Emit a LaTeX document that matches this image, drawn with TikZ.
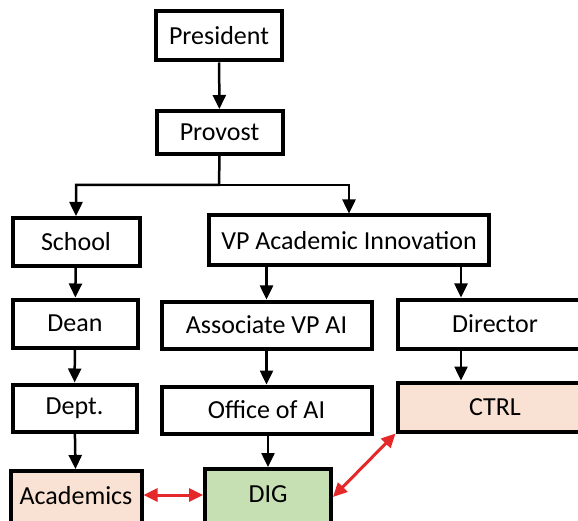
\documentclass[tikz,border=0pt]{standalone}
\usepackage{fontspec}
\setmainfont{Carlito}
\usepackage{xcolor}
\usepackage{tikz}
\usetikzlibrary{arrows.meta}

\definecolor{peach}{HTML}{F9E1D3}
\definecolor{leaf}{HTML}{C6E0B4}
\definecolor{linkred}{HTML}{E5282A}

\tikzset{
  box/.style={draw, line width=4pt, fill=white, inner sep=0pt,
    font=\fontsize{26}{31}\selectfont},
  arr/.style={line width=2.5pt, -{Triangle[length=14pt,width=13pt]}},
  link/.style={line width=3pt, linkred,
    {Triangle[length=14pt,width=13pt]}-{Triangle[length=14pt,width=13pt]}}
}

\begin{document}
\begin{tikzpicture}[x=1pt, y=-1pt]
				\useasboundingbox (0,0) rectangle (578,521);

				\node[box, minimum width=126pt, minimum height=49pt] (president) at (219,36) {President};
				\node[box, minimum width=126pt, minimum height=43pt] (provost) at (219.5,132.5) {Provost};

				\node[box, minimum width=127pt, minimum height=48pt] (school) at (76,242) {School};
				\node[box, minimum width=280pt, minimum height=50pt] (vpai) at (349,240.5) {VP Academic Innovation};

				\node[box, minimum width=125pt, minimum height=48pt] (dean) at (75,323.5) {Dean};
				\node[box, minimum width=210pt, minimum height=47pt] (avpai) at (266.5,325) {Associate VP AI};
				\node[box, minimum width=195pt, minimum height=49pt] (director) at (495,324) {Director};

				\node[box, minimum width=124pt, minimum height=47pt] (dept) at (74.5,408) {Dept.};
				\node[box, minimum width=210pt, minimum height=47pt] (office) at (266.5,410) {Office of AI};
				\node[box, fill=peach, minimum width=195pt, minimum height=49pt] (ctrl) at (495,407) {CTRL};

				% bottom row runs off the page
				\node[box, fill=peach, text depth=9pt, minimum width=131pt, minimum height=58pt] (academics) at (76,500) {Academics};
				\node[box, fill=leaf, text depth=9pt, minimum width=126pt, minimum height=60pt] (dig) at (268,499) {DIG};

				% reporting lines
				\coordinate (split) at (219,185);
				\draw[arr] (president) -- (provost);
				\draw[arr] (provost.south) -- (split) -| (school.north);
				\draw[arr] (split) -| (vpai.north);
				\draw[arr] (avpai.north |- vpai.south) -- (avpai.north);
				\draw[arr] ([xshift=-30pt]vpai.south east) -- ([xshift=-30pt]vpai.south east |- director.north);
				\draw[arr] (school) -- (dean);
				\draw[arr] (dean) -- (dept);
				\draw[arr] (avpai) -- (office);
				\draw[arr] ([xshift=-30pt]vpai.south east |- director.south) -- ([xshift=-30pt]vpai.south east |- ctrl.north);
				\draw[arr] (dept) -- (academics);
				\draw[arr] (office.south -| dig.north) -- (dig.north);

				% partnerships
				\draw[link] (academics.east |- 0,495) -- (dig.west |- 0,495);
				\draw[link] (dig.east |- 0,497) -- (ctrl.south west);
			\end{tikzpicture}
\end{document}
